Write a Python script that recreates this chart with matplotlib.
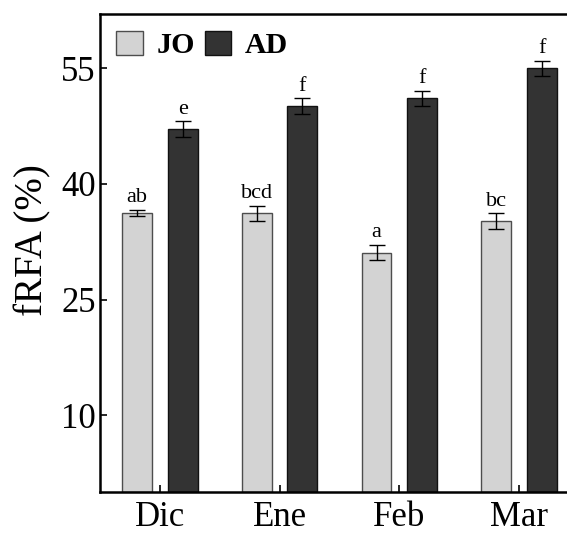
import matplotlib
matplotlib.use("Agg")
import matplotlib.pyplot as plt
import numpy as np

months = ["Dic", "Ene", "Feb", "Mar"]
jo_values = [36.2, 36.2, 31.1, 35.2]
jo_err = [0.4, 1.0, 1.0, 1.0]
ad_values = [47.1, 50.1, 51.1, 55.0]
ad_err = [1.0, 1.0, 1.0, 1.0]
jo_letters = ["ab", "bcd", "a", "bc"]
ad_letters = ["e", "f", "f", "f"]
yticks = [10, 25, 40, 55]

plt.rcParams["font.family"] = ["Liberation Serif", "DejaVu Serif"]

fig = plt.figure(figsize=(5.67, 5.33), dpi=100)
ax = fig.add_axes([100 / 567, 40.7 / 533, 478.8 / 567, 478 / 533])

x = np.arange(len(months))
width = 0.25
off = 0.19

ax.bar(x - off, jo_values, width, color="#d3d3d3", edgecolor="#4d4d4d",
       linewidth=1.0, label="JO", zorder=2)
ax.bar(x + off, ad_values, width, color="#333333", edgecolor="#111111",
       linewidth=1.0, label="AD", zorder=2)
ax.errorbar(x - off, jo_values, yerr=jo_err, fmt="none", ecolor="black",
            elinewidth=1.0, capsize=5.5, capthick=1.0, zorder=3)
ax.errorbar(x + off, ad_values, yerr=ad_err, fmt="none", ecolor="black",
            elinewidth=1.0, capsize=5.5, capthick=1.0, zorder=3)

for xi, v, e, t in zip(x - off, jo_values, jo_err, jo_letters):
    ax.text(xi, v + e + 0.35, t, ha="center", va="bottom", fontsize=16)
for xi, v, e, t in zip(x + off, ad_values, ad_err, ad_letters):
    ax.text(xi, v + e + 0.35, t, ha="center", va="bottom", fontsize=16)

ax.set_xlim(-0.5, 3.5)
ax.set_ylim(0, 62)
ax.set_yticks(yticks)
ax.set_xticks(x)
ax.set_xticklabels(months)
ax.tick_params(axis="both", direction="in", length=5, width=1.2,
               labelsize=25)
ax.tick_params(axis="y", pad=3)
ax.tick_params(axis="x", pad=6)
ax.set_ylabel("fRFA (%)", fontsize=28)
ax.yaxis.set_label_coords(-0.101, 0.527)

for s in ax.spines.values():
    s.set_linewidth(1.8)
    s.set_color("black")

leg = ax.legend(loc="upper left", ncol=2, frameon=False,
                prop={"weight": "bold", "size": 21.5},
                handlelength=0.88, handleheight=0.88, handletextpad=0.45,
                columnspacing=0.35, borderaxespad=0.15, borderpad=0.4,
                bbox_to_anchor=(0.0, 1.0))

fig.savefig("out.png", dpi=100)
